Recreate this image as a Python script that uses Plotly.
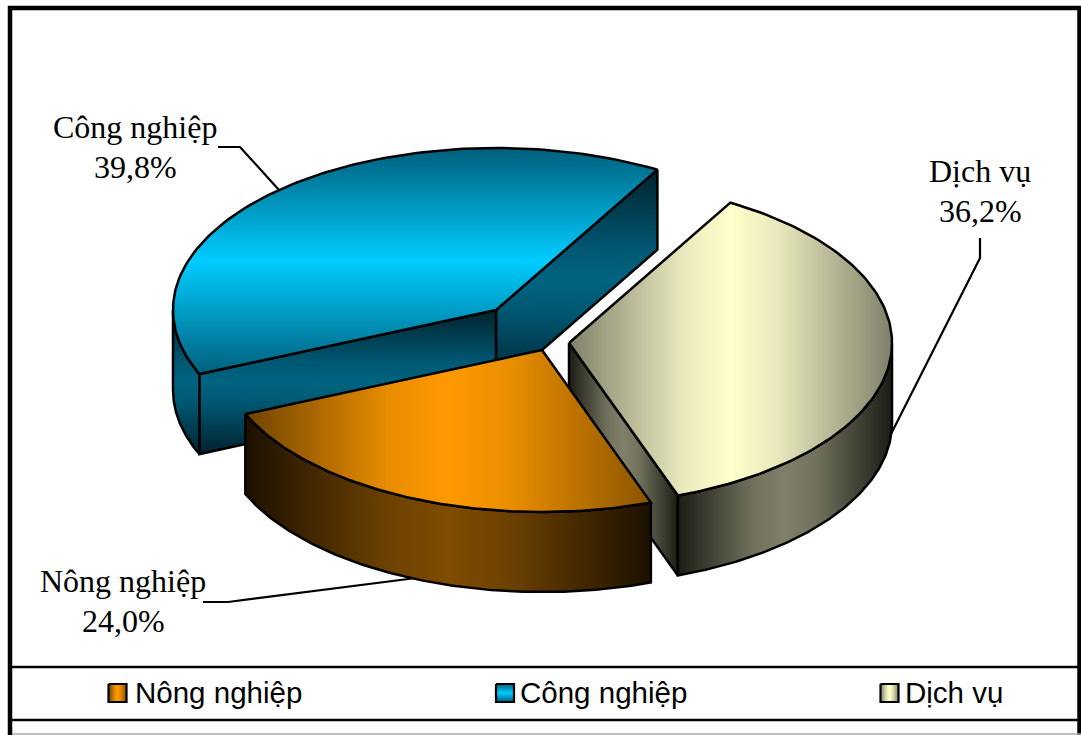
import numpy as np
import plotly.graph_objects as go

CATEGORIES = ["Nông nghiệp", "Công nghiệp", "Dịch vụ"]
SHARES = [24.0, 39.8, 36.2]
LABELS = ["24,0%", "39,8%", "36,2%"]

# pie geometry (pixels of the canvas), style only
RX, RY, DEPTH = 323, 162, 80
START_DEG = -70.3
CENTRES = {"Nông nghiệp": (542, 350), "Công nghiệp": (496, 310), "Dịch vụ": (569, 343)}
STOPS = [0, 0.35, 0.5, 0.65, 1]
COLOURS = {
    "Nông nghiệp": dict(top=("#6e4300", "#e88c00", "#ff9900", "#ea8e00", "#8a5400"),
                        side=("#1c1000", "#6c4100", "#7f4c00", "#6c4100", "#1c1000"), dir="horizontal"),
    "Công nghiệp": dict(top=("#005f7c", "#00acd8", "#00ccff", "#00acd8", "#005f7c"),
                        side=("#00222e", "#005670", "#006480", "#005670", "#00222e"), dir="vertical"),
    "Dịch vụ": dict(top=("#80806a", "#e8e8bc", "#ffffcc", "#e8e8bc", "#80806a"),
                    side=("#1c1c14", "#70705c", "#80806a", "#70705c", "#1c1c14"), dir="horizontal"),
}

spans = {}
a = START_DEG
for c, s in zip(CATEGORIES, SHARES):
    spans[c] = (a, a - 360 * s / 100)
    a = spans[c][1]


def arc(c, t0, t1, drop=0):
    cx, cy = CENTRES[c]
    t = np.radians(np.linspace(t0, t1, 121))
    return cx + RX * np.cos(t), cy - RY * np.sin(t) + drop


fig = go.Figure()


def poly(x, y, c, part, lw=2.5):
    x = [float(v) for v in x]
    y = [float(v) for v in y]
    st = COLOURS[c]
    lo, hi = (min(x), max(x)) if st["dir"] == "horizontal" else (min(y), max(y))
    gradient = dict(type=st["dir"], start=lo, stop=hi,
                    colorscale=[[p, col] for p, col in zip(STOPS, st[part])])
    fig.add_trace(go.Scatter(x=x + [x[0]], y=y + [y[0]], mode="lines", fill="toself", fillgradient=gradient,
                             line=dict(color="#000000", width=lw), hoverinfo="skip", name=c,
                             showlegend=False))


def top(c):
    t0, t1 = spans[c]
    ax, ay = arc(c, t0, t1)
    cx, cy = CENTRES[c]
    poly([cx, *ax], [cy, *ay], c, "top")


def wall(c, t0, t1):
    ax, ay = arc(c, t0, t1)
    bx, by = arc(c, t1, t0, DEPTH)
    poly([*ax, *bx], [*ay, *by], c, "side")


def cut(c, t):
    cx, cy = CENTRES[c]
    ex, ey = arc(c, t, t)
    ex, ey = ex[0], ey[0]
    poly([cx, ex, ex, cx], [cy, ey, ey + DEPTH, cy + DEPTH], c, "side")


def leader(xs, ys):
    fig.add_trace(go.Scatter(x=xs, y=ys, mode="lines", line=dict(color="#000000", width=2.2),
                             hoverinfo="skip", showlegend=False))


leader([218, 240, 279], [147, 147, 190])
leader([980, 980, 890], [238, 258, 436])
leader([203, 228, 416], [602, 602, 578])

c_t0, c_t1 = spans["Công nghiệp"]
cut("Công nghiệp", c_t1)
cut("Công nghiệp", c_t0)
wall("Công nghiệp", c_t0, -180)
top("Công nghiệp")

d_t0, d_t1 = spans["Dịch vụ"]
cut("Dịch vụ", d_t1)
wall("Dịch vụ", -360, d_t1)
top("Dịch vụ")

n_t0, n_t1 = spans["Nông nghiệp"]
wall("Nông nghiệp", n_t0, n_t1)
top("Nông nghiệp")

# legend keys
KEY_X = {"Nông nghiệp": 108.5, "Công nghiệp": 496, "Dịch vụ": 880.5}
TEXT_X = {"Nông nghiệp": 133, "Công nghiệp": 518, "Dịch vụ": 903}
for c in CATEGORIES:
    x0 = KEY_X[c]
    poly([x0, x0 + 18, x0 + 18, x0], [684, 684, 702, 702], c, "top", lw=2.2)
    fig.add_annotation(x=TEXT_X[c], y=692, text=c, showarrow=False, xanchor="left", yanchor="middle",
                       font=dict(family="Liberation Sans", size=29.5, color="#000000"))

# data labels
LABEL_POS = {"Công nghiệp": (135, 127, 167), "Dịch vụ": (980, 171, 211), "Nông nghiệp": (123, 581, 621)}
for c, l in zip(CATEGORIES, LABELS):
    x, y1, y2 = LABEL_POS[c]
    for text, y in ((c, y1), (l, y2)):
        fig.add_annotation(x=x, y=y, text=text, showarrow=False, xanchor="center", yanchor="middle",
                           font=dict(family="Liberation Serif", size=32, color="#000000"))

# frame
shapes = [
    dict(type="rect", x0=10, x1=1079.5, y0=8, y1=760, line=dict(color="#000000", width=4.5)),
    dict(type="line", x0=10, x1=1080, y0=667, y1=667, line=dict(color="#000000", width=2.5)),
    dict(type="line", x0=10, x1=1080, y0=720, y1=720, line=dict(color="#000000", width=2.5)),
    dict(type="line", x0=12, x1=1081, y0=734, y1=734, line=dict(color="#aaaaaa", width=1.5)),
]

fig.update_layout(
    width=1081, height=735, margin=dict(l=0, r=0, t=0, b=0),
    paper_bgcolor="#ffffff", plot_bgcolor="#ffffff", showlegend=False, shapes=shapes,
    xaxis=dict(range=[0, 1081], visible=False, fixedrange=True),
    yaxis=dict(range=[735, 0], visible=False, fixedrange=True),
)
fig.write_html("out.html", config=dict(displayModeBar=False),
               post_script="document.body.style.margin='0';document.body.style.overflow='hidden';")
